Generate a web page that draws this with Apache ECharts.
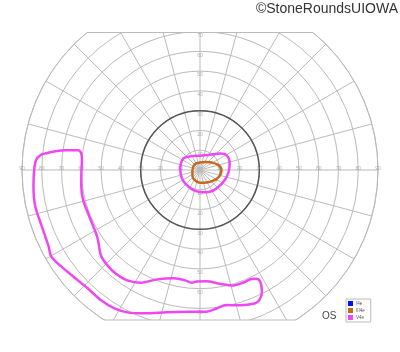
<!DOCTYPE html>
<html>
<head>
<meta charset="utf-8">
<script src="https://cdn.jsdelivr.net/npm/echarts@6/dist/echarts.min.js"></script>
<style>html,body{margin:0;padding:0;background:#fff}#c{width:400px;height:352px}</style>
</head>
<body>
<div id="c"></div>
<script>
// Eccentricity tick labels (degrees)
const hTicks = [10, 20, 30, 40, 50, 60, 70, 80, 90];
const vTicks = [10, 20, 30, 40, 50, 60, 70];
// Isopters: [angle (deg, 0 = right, counter-clockwise), eccentricity (deg)]
const i4e = [];
const iii4e = [
  [180, 3.85], [135, 3.9], [90, 3.75], [53, 5], [32, 7.1], [15.1, 9.6], [358.7, 10.85],
  [341.6, 10.3], [323, 8.75], [299, 7.2], [270, 6.5], [247.8, 5.9], [221, 5], [180, 3.85]
];
const v4eInner = [
  [171.5, 10.1], [145, 10.2], [120, 8.1], [90, 7.25], [57, 9.2], [39.7, 13], [29.4, 15.3],
  [13.1, 15.4], [356, 14.5], [338.2, 13.5], [315.8, 12.6], [294.4, 12.1], [277.6, 11.4],
  [259.5, 10.9], [237.8, 10.3], [212.9, 10.1], [191.6, 9.95], [171.5, 10.1]
];
const v4eOuter = [
  [173.9, 78.8], [171.7, 69.1], [170.8, 62.5], [172.1, 60.6], [175.2, 59.9], [181.6, 60],
  [187.9, 60.6], [194.2, 61.0], [201, 60.7], [209.4, 61.2], [214.1, 62.4], [220.9, 66.2],
  [226, 67.2], [231, 67.5], [236.7, 66.8], [242.2, 64.4], [248.6, 59.4], [256.3, 56.3],
  [262.3, 56.3], [265.8, 57.2], [268.3, 56.4], [273.4, 56.4], [279.9, 58.4], [286, 60.7],
  [290.8, 61], [295.9, 61.1], [297.9, 62.3], [298.2, 65.2], [296.9, 69.2], [294.5, 72.3],
  [292.2, 72.9], [286.3, 71.2], [281, 69.6], [276.8, 70.5], [272.7, 71.7], [264.7, 72],
  [256.9, 73.9], [248.7, 77.8], [243, 80.8], [238.3, 82.3], [232.8, 82.7], [226.6, 82.5],
  [217.8, 84.4], [210.5, 87], [206.6, 85.7], [199.5, 84.9], [192.4, 85.3], [185.6, 84.6],
  [178.8, 83.7], [176, 82.7], [174.3, 80.4], [173.9, 78.8]
];

const CX = 200, CY = 170, R = 178, MAXE = 90;
const TOPY = 32.5, BOTY = 320;
const GRID = '#bbbbbb';
const chord = y => Math.sqrt(Math.max(0, R * R - (y - CY) * (y - CY)));

const toPolar = arr => arr.map(p => [p[1], p[0]]);

const chart = echarts.init(document.getElementById('c'), null, {renderer: 'canvas'});
chart.setOption({
  animation: false,
  backgroundColor: '#fff',
  title: {
    text: '©StoneRoundsUIOWA', right: 2, top: 2, padding: 0, z: 200,
    textStyle: {fontSize: 14, fontWeight: 'normal', color: '#333', fontFamily: 'Liberation Sans'}
  },
  polar: [
    {center: [CX, CY], radius: R},
    {center: [CX, CY], radius: R * 30 / MAXE}
  ],
  angleAxis: [
    {polarIndex: 0, type: 'value', min: 0, max: 360, interval: 15, startAngle: 0, clockwise: false,
     axisLine: {lineStyle: {color: GRID, width: 1}}, axisTick: {show: false}, axisLabel: {show: false},
     splitLine: {show: true, lineStyle: {color: GRID, width: 1}}},
    {polarIndex: 1, type: 'value', min: 0, max: 360, startAngle: 0, clockwise: false,
     axisLine: {lineStyle: {color: '#555', width: 1.5}}, axisTick: {show: false}, axisLabel: {show: false},
     splitLine: {show: false}}
  ],
  radiusAxis: [
    {polarIndex: 0, type: 'value', min: 0, max: MAXE, interval: 10,
     axisLine: {show: false}, axisTick: {show: false}, axisLabel: {show: false},
     splitLine: {show: true, lineStyle: {color: GRID, width: 1}}},
    {polarIndex: 1, type: 'value', min: 0, max: 30,
     axisLine: {show: false}, axisTick: {show: false}, axisLabel: {show: false}, splitLine: {show: false}}
  ],
  legend: {
    orient: 'vertical', left: 346, top: 299, z: 200,
    data: ['I4e', 'III4e', 'V4e'],
    icon: 'rect', itemWidth: 5, itemHeight: 5, itemGap: 2,
    padding: [2, 6, 2, 2], borderColor: '#bbb', borderWidth: 1, backgroundColor: '#fff',
    textStyle: {fontSize: 4.5, color: '#555', padding: [0, 0, 0, -2]},
    selectedMode: false
  },
  graphic: [
    {type: 'rect', z: 100, silent: true, shape: {x: 0, y: 0, width: 400, height: TOPY}, style: {fill: '#fff'}},
    {type: 'rect', z: 100, silent: true, shape: {x: 0, y: BOTY, width: 340, height: 352 - BOTY}, style: {fill: '#fff'}},
    {type: 'line', z: 101, silent: true,
     shape: {x1: CX - chord(TOPY), y1: TOPY, x2: CX + chord(TOPY), y2: TOPY}, style: {stroke: GRID, lineWidth: 1}},
    {type: 'line', z: 101, silent: true,
     shape: {x1: CX - chord(BOTY), y1: BOTY, x2: CX + chord(BOTY), y2: BOTY}, style: {stroke: GRID, lineWidth: 1}},
    {type: 'text', z: 200, left: 322, top: 311,
     style: {text: 'OS', fontSize: 10, fill: '#444', fontFamily: 'Liberation Sans'}}
  ],
  series: [
    {type: 'scatter', coordinateSystem: 'polar', polarIndex: 0, silent: true, symbolSize: 1,
     itemStyle: {color: 'rgba(0,0,0,0)'},
     data: hTicks.map(r => [r, 0]).concat(hTicks.map(r => [r, 180])),
     label: {show: true, position: 'inside', formatter: p => String(p.value[0]), fontSize: 5, color: '#999', offset: [0, -1]}},
    {type: 'scatter', coordinateSystem: 'polar', polarIndex: 0, silent: true, symbolSize: 1,
     itemStyle: {color: 'rgba(0,0,0,0)'},
     data: vTicks.map(r => [r, 90]).concat(vTicks.map(r => [r, 270])),
     label: {show: true, position: 'inside', formatter: p => String(p.value[0]), fontSize: 5, color: '#999', offset: [0, 4]}},
    {name: 'I4e', type: 'line', coordinateSystem: 'polar', polarIndex: 0, data: toPolar(i4e),
     showSymbol: false, itemStyle: {color: '#0010ff'}, lineStyle: {color: '#0010ff', width: 2.5}},
    {name: 'III4e', type: 'line', coordinateSystem: 'polar', polarIndex: 0, data: toPolar(iii4e),
     smooth: 0.4, showSymbol: false, symbol: 'none', itemStyle: {color: '#c8681e'}, lineStyle: {color: '#c8681e', width: 2.5}},
    {name: 'V4e', type: 'line', coordinateSystem: 'polar', polarIndex: 0, data: toPolar(v4eInner),
     smooth: 0.4, showSymbol: false, symbol: 'none', itemStyle: {color: '#f046f5'}, lineStyle: {color: '#f046f5', width: 2.5}},
    {name: 'V4e', type: 'line', coordinateSystem: 'polar', polarIndex: 0, data: toPolar(v4eOuter),
     smooth: 0.3, showSymbol: false, symbol: 'none', itemStyle: {color: '#f046f5'}, lineStyle: {color: '#f046f5', width: 2.5}}
  ]
});
</script>
</body>
</html>
